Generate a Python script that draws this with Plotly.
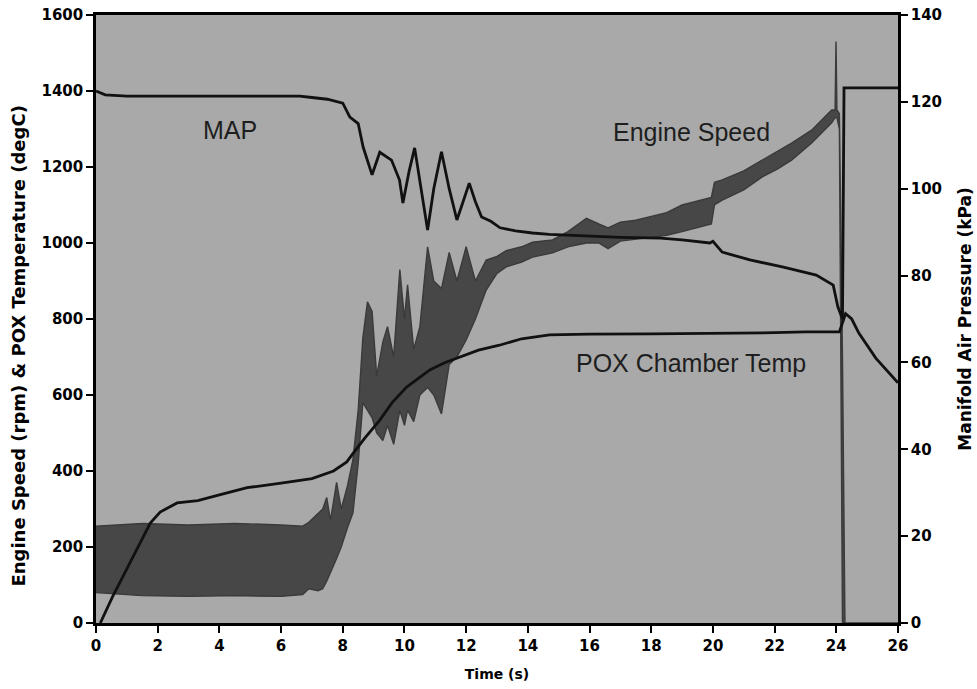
import plotly.graph_objects as go

# ---------------- data ----------------
# POX chamber temperature (degC) vs time (s)
pox_t = [0.14, 0.53, 1.76, 2.08, 2.63, 3.3, 4.0, 4.9, 6.0, 7.0, 7.7, 8.13, 8.34, 8.7, 9.2,
         9.6, 10.07, 10.5, 10.82, 11.3, 11.79, 12.4, 13.08, 13.8, 14.7, 16.0, 18.0, 20.0,
         22.0, 23.0, 24.1, 24.3, 24.5, 24.73, 25.28, 26.0]
pox_v = [0, 68, 263, 292, 316, 322, 337, 356, 368, 380, 400, 424, 447, 485, 534,
         580, 621, 648, 666, 685, 700, 718, 731, 748, 758, 760, 761, 762,
         764, 766, 766, 814, 800, 763, 697, 632]

# Manifold air pressure (kPa) vs time (s)
map_t = [0.0, 0.3, 1.0, 3.0, 5.0, 6.6, 7.0, 7.5, 8.0, 8.23, 8.5, 8.66, 8.95, 9.2, 9.58,
         9.84, 9.95, 10.15, 10.33, 10.55, 10.75, 10.95, 11.2, 11.45, 11.7, 11.9, 12.1,
         12.3, 12.5, 12.8, 13.1, 13.6, 14.15, 14.7, 15.25, 16.3, 17.0, 18.3, 19.0, 19.9,
         20.0, 20.3, 21.2, 22.25, 23.35, 23.9, 24.05, 24.2, 24.25, 26.0]
map_v = [122.5, 121.6, 121.3, 121.3, 121.3, 121.3, 121.0, 120.6, 119.7, 116.5, 115.0, 109.6,
         103.2, 108.4, 106.6, 102.0, 96.7, 104.0, 109.4, 100.0, 90.5, 100.0, 108.5, 100.0,
         92.8, 97.0, 101.3, 97.0, 93.5, 92.5, 91.0, 90.3, 89.8, 89.5, 89.3, 88.9, 88.8,
         88.6, 88.2, 87.5, 87.9, 85.4, 83.6, 82.0, 80.1, 77.8, 72.8, 70.0, 123.2, 123.2]

# Engine speed (rpm): upper / lower envelope of the oscillating trace
es_t = [0.0, 1.5, 3.0, 4.5, 6.0, 6.7, 6.9, 7.2, 7.35, 7.48, 7.6, 7.8, 7.95, 8.15, 8.33,
        8.5, 8.65, 8.8, 8.95, 9.1, 9.3, 9.45, 9.65, 9.85, 10.0, 10.1, 10.3, 10.5, 10.75,
        10.95, 11.2, 11.45, 11.7, 12.0, 12.3, 12.65, 13.0, 13.3, 13.8, 14.15, 14.8, 15.3,
        15.9, 16.3, 16.6, 17.0, 17.5, 18.0, 18.5, 19.0, 19.5, 19.95, 20.05, 20.3, 21.0,
        21.6, 22.1, 22.55, 23.2, 23.85, 23.96, 23.99, 24.02, 24.1, 24.2, 24.28, 26.0]
es_hi = [255, 262, 258, 262, 258, 255, 265, 290, 300, 330, 270, 370, 300, 360, 430,
         560, 750, 845, 820, 650, 740, 780, 700, 930, 800, 890, 720, 780, 990,
         900, 880, 975, 900, 990, 900, 955, 965, 980, 990, 1002, 1008, 1030,
         1065, 1050, 1040, 1055, 1060, 1070, 1080, 1100, 1110, 1120, 1160, 1166, 1190,
         1218, 1240, 1263, 1297, 1350, 1350, 1530, 1350, 1340, 700, 0, 0]
es_lo = [80, 72, 70, 72, 70, 75, 90, 85, 90, 110, 130, 170, 200, 250, 290,
         420, 580, 560, 540, 500, 480, 520, 470, 560, 520, 560, 530, 600, 620,
         600, 550, 680, 700, 745, 800, 876, 920, 937, 950, 963, 974, 990,
         1000, 1000, 985, 1005, 1010, 1015, 1020, 1030, 1040, 1050, 1100, 1113, 1140,
         1174, 1195, 1218, 1263, 1316, 1330, 1330, 1330, 1300, 0, 0, 0]

x_ticks = list(range(0, 27, 2))
left_ticks = list(range(0, 1601, 200))
right_ticks = list(range(0, 141, 20))

# ---------------- figure ----------------
fig = go.Figure()

fig.add_trace(go.Scatter(
    x=es_t + es_t[::-1], y=es_hi + es_lo[::-1],
    fill="toself", fillcolor="#474747", mode="lines",
    line=dict(color="#3a3a3a", width=1.4), name="Engine Speed", showlegend=False))

fig.add_trace(go.Scatter(
    x=map_t, y=map_v, mode="lines", yaxis="y2",
    line=dict(color="#111111", width=2.8), name="MAP", showlegend=False))

fig.add_trace(go.Scatter(
    x=pox_t, y=pox_v, mode="lines",
    line=dict(color="#111111", width=2.8), name="POX Chamber Temp", showlegend=False))

FAM = "DejaVu Sans, Arial, sans-serif"
tickfont = dict(family=FAM, size=15, color="black", weight="bold")

fig.update_layout(
    width=977, height=689,
    margin=dict(l=96, r=79, t=15, b=66),
    paper_bgcolor="white", plot_bgcolor="#a9a9a9",
    showlegend=False,
    xaxis=dict(range=[0, 26], tickvals=x_ticks, ticks="outside", ticklen=7, tickwidth=2,
               tickcolor="black", showline=True, linecolor="black", linewidth=3,
               mirror=True, showgrid=False, zeroline=False, tickfont=tickfont,
               automargin=False,
               title=dict(text="Time (s)", font=dict(family=FAM, size=14, color="black",
                                                      weight="bold"), standoff=16)),
    yaxis=dict(range=[0, 1600], tickvals=left_ticks, ticks="outside", ticklen=7, tickwidth=2,
               tickcolor="black", showline=True, linecolor="black", linewidth=2.5,
               showgrid=False, zeroline=False, tickfont=tickfont, automargin=False),
    yaxis2=dict(range=[0, 140], tickvals=right_ticks, overlaying="y", side="right",
                ticks="outside", ticklen=7, tickwidth=2, tickcolor="black",
                showline=True, linecolor="black", linewidth=2.5, showgrid=False,
                zeroline=False, tickfont=tickfont, automargin=False,
                title=dict(text="Manifold Air Pressure (kPa)",
                           font=dict(family=FAM, size=17, color="black", weight="bold"),
                           standoff=19)),
)

# left axis title (placed as in the reference, slightly below plot centre)
fig.add_annotation(xref="paper", yref="paper", x=-0.097, y=0.455, textangle=-90,
                   text="Engine Speed (rpm) & POX Temperature (degC)", showarrow=False,
                   xanchor="center", yanchor="middle",
                   font=dict(family=FAM, size=18, color="black", weight="bold"))

labfont = dict(family="Liberation Sans, Arial, sans-serif", size=25, color="#1e1e1e")
fig.add_annotation(x=4.35, y=1297, text="MAP", showarrow=False, font=labfont)
fig.add_annotation(x=19.3, y=1292, text="Engine Speed", showarrow=False, font=labfont)
fig.add_annotation(x=19.3, y=684, text="POX Chamber Temp", showarrow=False, font=labfont)

fig.write_html("out.html")
